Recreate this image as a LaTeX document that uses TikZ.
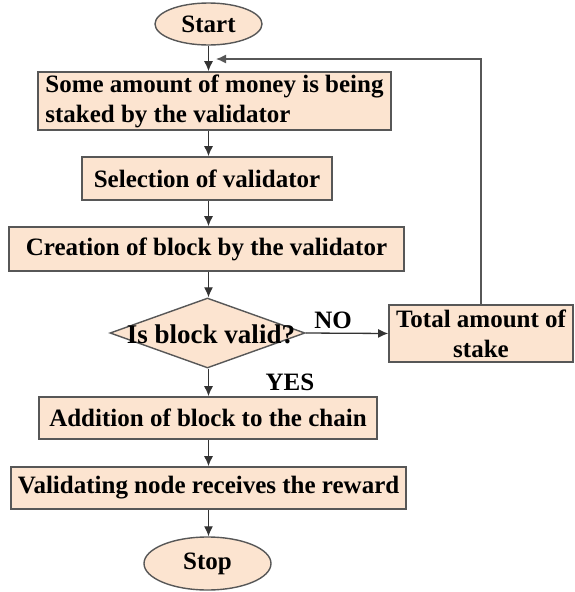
\documentclass[tikz,border=0pt]{standalone}
\usepackage{fontspec}
\setmainfont{Liberation Serif}
\usetikzlibrary{shapes.geometric,arrows.meta}
\definecolor{boxfill}{HTML}{FCE4D0}
\definecolor{boxline}{HTML}{575757}
\definecolor{linkline}{HTML}{333333}
\begin{document}
\begin{tikzpicture}[x=1pt,y=-1pt,
  font=\fontsize{25}{30}\selectfont\bfseries,
  every node/.style={text=black},
  stepbox/.style={draw=boxline, line width=1.6pt, fill=boxfill, inner sep=0pt, rectangle},
  terminal/.style={draw=boxline, line width=1.4pt, fill=boxfill, ellipse, inner sep=0pt},
  decision/.style={draw=boxline, line width=1.4pt, fill=boxfill, diamond, inner sep=0pt},
  arr/.style={draw=linkline, line width=1.3pt, -{Latex[length=10pt,width=9pt]}},
  fbline/.style={draw=boxline, line width=1.3pt, -{Latex[length=10pt,width=9pt]}}]
\useasboundingbox (0,0) rectangle (575,592);

% terminals
\node[terminal, minimum width=107pt, minimum height=42pt] (start) at (208.5,24) {Start};
\node[terminal, minimum width=127pt, minimum height=53pt] (stop) at (207.5,563.5) {Stop};

% process steps
\node[stepbox, minimum width=353pt, minimum height=58pt, align=left] (stake) at (214.5,101)
  {Some amount of money is being\\staked by the validator};
\node[stepbox, minimum width=250pt, minimum height=43pt] (select) at (207,178.5) {Selection of validator};
\node[stepbox, minimum width=395pt, minimum height=44pt] (create) at (206.5,249) {Creation of block by the validator};
\node[decision, minimum width=195pt, minimum height=70pt] (valid) at (207.5,333) {};
\node[font=\fontsize{27}{30}\selectfont\bfseries] (validtext) at (211,334) {Is block valid?};
\node[stepbox, minimum width=184pt, minimum height=57pt, align=center] (total) at (481,333.5)
  {Total amount of\\stake};
\node[stepbox, minimum width=338pt, minimum height=42pt] (add) at (208,418) {Addition of block to the chain};
\node[stepbox, minimum width=395pt, minimum height=42pt] (reward) at (208.5,488) {Validating node receives the reward};

% branch labels
\node (no) at (333,320) {NO};
\node (yes) at (290,382) {YES};

% feedback end point
\coordinate (back) at (216,59);

% connectors
\draw[arr] (start.south) -- (start.south |- stake.north);
\draw[arr] (start.south |- stake.south) -- (start.south |- select.north);
\draw[arr] (start.south |- select.south) -- (start.south |- create.north);
\draw[arr] (start.south |- create.south) -- (start.south |- valid.north);
\draw[arr] (valid.east) -- (total.west);
\draw[arr] (start.south |- valid.south) -- (start.south |- add.north);
\draw[arr] (start.south |- add.south) -- (start.south |- reward.north);
\draw[arr] (start.south |- reward.south) -- (start.south |- stop.north);
\draw[fbline] (total.north) |- (back);
\end{tikzpicture}
\end{document}
